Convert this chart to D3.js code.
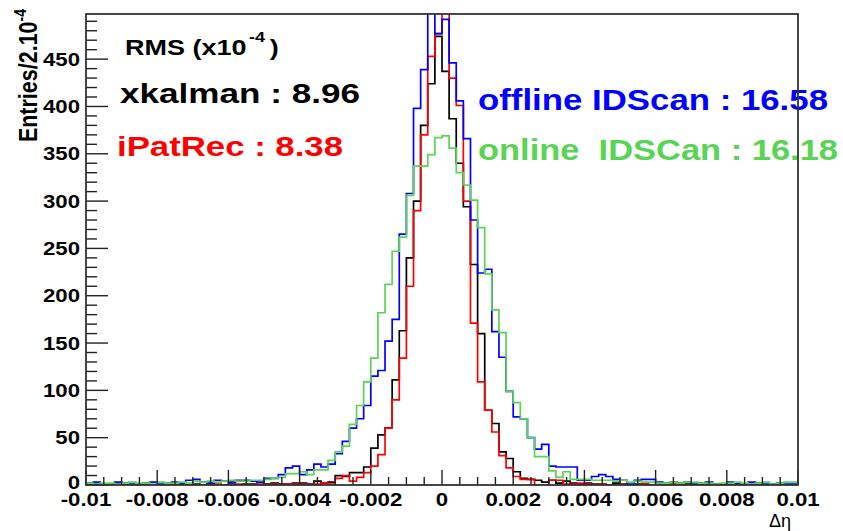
<!DOCTYPE html>
<html>
<head>
<meta charset="utf-8">
<script src="https://cdn.jsdelivr.net/npm/d3@7/dist/d3.min.js"></script>
<style>
  body { margin: 0; background: #fff; }
  text { font-family: "Liberation Sans", Arial, sans-serif; }
</style>
</head>
<body>
<svg id="chart" width="843" height="531"></svg>
<script>
// histogram binning: 100 bins of 2e-4 between -0.01 and 0.01
const xLow = -0.01, xHigh = 0.01, binWidth = 0.0002;
const xTicks = [-0.01, -0.008, -0.006, -0.004, -0.002, 0, 0.002, 0.004, 0.006, 0.008, 0.01];
const xTickLabels = ["-0.01", "-0.008", "-0.006", "-0.004", "-0.002", "0", "0.002", "0.004", "0.006", "0.008", "0.01"];
const yTicks = [0, 50, 100, 150, 200, 250, 300, 350, 400, 450];

// entries per bin
const xkalman = [0,1,0,0,1,0,0,0,1,0, 0,1,0,0,0,1,0,1,0,0, 1,0,1,1,0,1,2,1,1,2,
  2,1,4,2,3,10,9,13,13,19, 39,53,60,111,163,240,300,380,424,474,
  437,387,340,294,233,160,79,65,35,28, 14,7,6,5,3,5,2,4,2,1,
  2,1,1,0,2,1,0,1,1,0, 0,1,0,0,1,0,0,1,0,0, 0,0,1,0,0,0,1,0,0,0];
const iPatRec = [0,0,1,0,0,0,0,1,0,0, 0,0,0,1,0,0,0,0,1,0, 0,1,0,0,1,0,1,0,1,1,
  1,0,1,2,1,7,10,4,8,13, 20,32,60,90,134,210,290,370,453,477,
  505,430,401,300,171,109,79,56,31,18, 9,6,6,0,0,5,5,1,1,2,
  1,0,1,0,0,1,0,0,1,0, 0,0,1,0,0,0,0,1,0,0, 0,0,0,1,0,0,0,0,0,0];
const offlineIDScan = [2,3,1,1,3,2,1,1,2,3, 1,2,3,2,5,6,3,2,5,4, 3,5,5,4,3,7,7,11,18,20,
  11,16,22,19,22,33,46,60,70,84, 115,121,152,175,265,308,398,439,530,477,
  492,446,406,366,280,224,228,162,135,99, 72,70,50,38,43,20,19,19,19,5,
  5,9,11,9,6,5,1,5,6,6, 3,2,3,2,3,1,2,3,1,1, 3,2,1,3,2,1,1,2,1,1];
const onlineIDScan = [2,1,2,2,1,2,3,2,2,1, 3,2,2,3,2,4,3,4,3,4, 5,4,4,5,5,6,7,8,12,12,
  14,11,16,16,26,35,41,64,84,109, 134,182,212,247,262,306,337,337,349,367,
  369,356,330,317,301,272,223,185,161,99, 87,70,50,30,30,15,8,14,6,6,
  6,5,5,5,4,5,3,4,3,3, 2,2,3,2,3,3,2,2,1,2, 2,3,2,1,2,3,1,2,3,3];

const series = [
  {name: "xkalman", values: xkalman, color: "#000000"},
  {name: "iPatRec", values: iPatRec, color: "#ff0000"},
  {name: "offline IDScan", values: offlineIDScan, color: "#0000ff"},
  {name: "online IDSCan", values: onlineIDScan, color: "#59d454"}
];

const svg = d3.select("#chart");
const frameL = 86, frameR = 798, frameT = 14, frameB = 485;
// ROOT style maximum: 1.05 x max of first histogram
const yMax = d3.max(xkalman) * 1.05;

const x = d3.scaleLinear().domain([xLow, xHigh]).range([frameL, frameR]);
const y = d3.scaleLinear().domain([0, yMax]).range([frameB, frameT]);
const sx = 1.2; // text is stretched horizontally in the original

svg.append("clipPath").attr("id", "frame")
  .append("rect").attr("x", frameL).attr("y", frameT).attr("width", frameR - frameL).attr("height", frameB - frameT);

// histograms
const line = d3.line().x(d => x(d[0])).y(d => y(d[1]));
function steps(values) {
  const pts = [[xLow, 0]];
  values.forEach(function(v, i) {
    const x0 = xLow + i * binWidth;
    pts.push([x0, v], [x0 + binWidth, v]);
  });
  pts.push([xHigh, 0]);
  return pts;
}
svg.append("g").attr("clip-path", "url(#frame)")
  .selectAll("path.hist")
  .data(series).enter()
  .append("path").attr("class", "hist")
  .attr("d", d => line(steps(d.values)))
  .style("fill", "none")
  .style("stroke", d => d.color)
  .style("stroke-width", 1.7);

// y axis ticks (inside frame)
const yMinor = d3.range(0, yMax, 10);
svg.selectAll("line.ytick")
  .data(yMinor).enter()
  .append("line").attr("class", "ytick")
  .attr("x1", frameL).attr("x2", d => frameL + (d % 50 === 0 ? 22 : 11))
  .attr("y1", d => y(d)).attr("y2", d => y(d))
  .style("stroke", "#222").style("stroke-width", 1.4);

svg.selectAll("text.ylab")
  .data(yTicks).enter()
  .append("text").attr("class", "ylab")
  .attr("transform", d => `translate(80,${y(d) - (d === 0 ? 3 : 0)}) scale(${sx},1)`)
  .attr("dy", "0.36em")
  .attr("text-anchor", "end")
  .style("font-size", "18.5px").style("font-weight", "bold")
  .text(d => d);

// x axis ticks
const xMinor = d3.range(0, 41).map(i => xLow + i * 0.0005);
svg.selectAll("line.xtick")
  .data(xMinor).enter()
  .append("line").attr("class", "xtick")
  .attr("x1", d => x(d)).attr("x2", d => x(d))
  .attr("y1", frameB).attr("y2", (d, i) => frameB - (i % 4 === 0 ? 15 : 8))
  .style("stroke", "#222").style("stroke-width", 1.4);

svg.selectAll("text.xlab")
  .data(xTicks).enter()
  .append("text").attr("class", "xlab")
  .attr("transform", d => `translate(${x(d)},506) scale(${sx},1)`)
  .attr("text-anchor", "middle")
  .style("font-size", "18.5px").style("font-weight", "bold")
  .text((d, i) => xTickLabels[i]);

// axis titles
const ytitle = svg.append("text")
  .attr("transform", "translate(37,9) rotate(-90) scale(1,1.2)")
  .attr("text-anchor", "end")
  .style("font-size", "21.5px").style("font-weight", "bold");
ytitle.append("tspan").text("Entries/2.10");
ytitle.append("tspan").attr("dy", -9).style("font-size", "14px").text("-4");

svg.append("text")
  .attr("x", 769).attr("y", 527)
  .style("font-size", "18px")
  .text("\u0394\u03b7");

// RMS annotations
const rms = svg.append("text")
  .attr("transform", `translate(125,55) scale(${sx},1)`)
  .style("font-size", "22.5px").style("font-weight", "bold");
rms.append("tspan").text("RMS (x10");
rms.append("tspan").attr("dx", 2).attr("dy", -13).style("font-size", "15px").text("-4");
rms.append("tspan").attr("dx", 4).attr("dy", 13).text(")");

const notes = [
  {text: "xkalman : 8.96", x: 120, y: 103, w: 240, size: 27, color: "#000000"},
  {text: "iPatRec : 8.38", x: 117, y: 156, w: 226, size: 28, color: "#ff0000"},
  {text: "offline IDScan : 16.58", x: 478, y: 110, w: 350, size: 29, color: "#0000ff"},
  {text: "online  IDSCan : 16.18", x: 478, y: 160, w: 360, size: 29, color: "#59d454"}
];
svg.selectAll("text.note")
  .data(notes).enter()
  .append("text").attr("class", "note")
  .attr("x", d => d.x).attr("y", d => d.y)
  .attr("textLength", d => d.w).attr("lengthAdjust", "spacingAndGlyphs")
  .style("font-size", d => d.size + "px").style("font-weight", "bold")
  .style("white-space", "pre")
  .style("fill", d => d.color)
  .text(d => d.text);

// frame on top, as in the original
svg.append("rect").attr("x", frameL).attr("y", frameT).attr("width", frameR - frameL).attr("height", frameB - frameT)
  .style("fill", "none").style("stroke", "#333").style("stroke-width", 1.8);
</script>
</body>
</html>
